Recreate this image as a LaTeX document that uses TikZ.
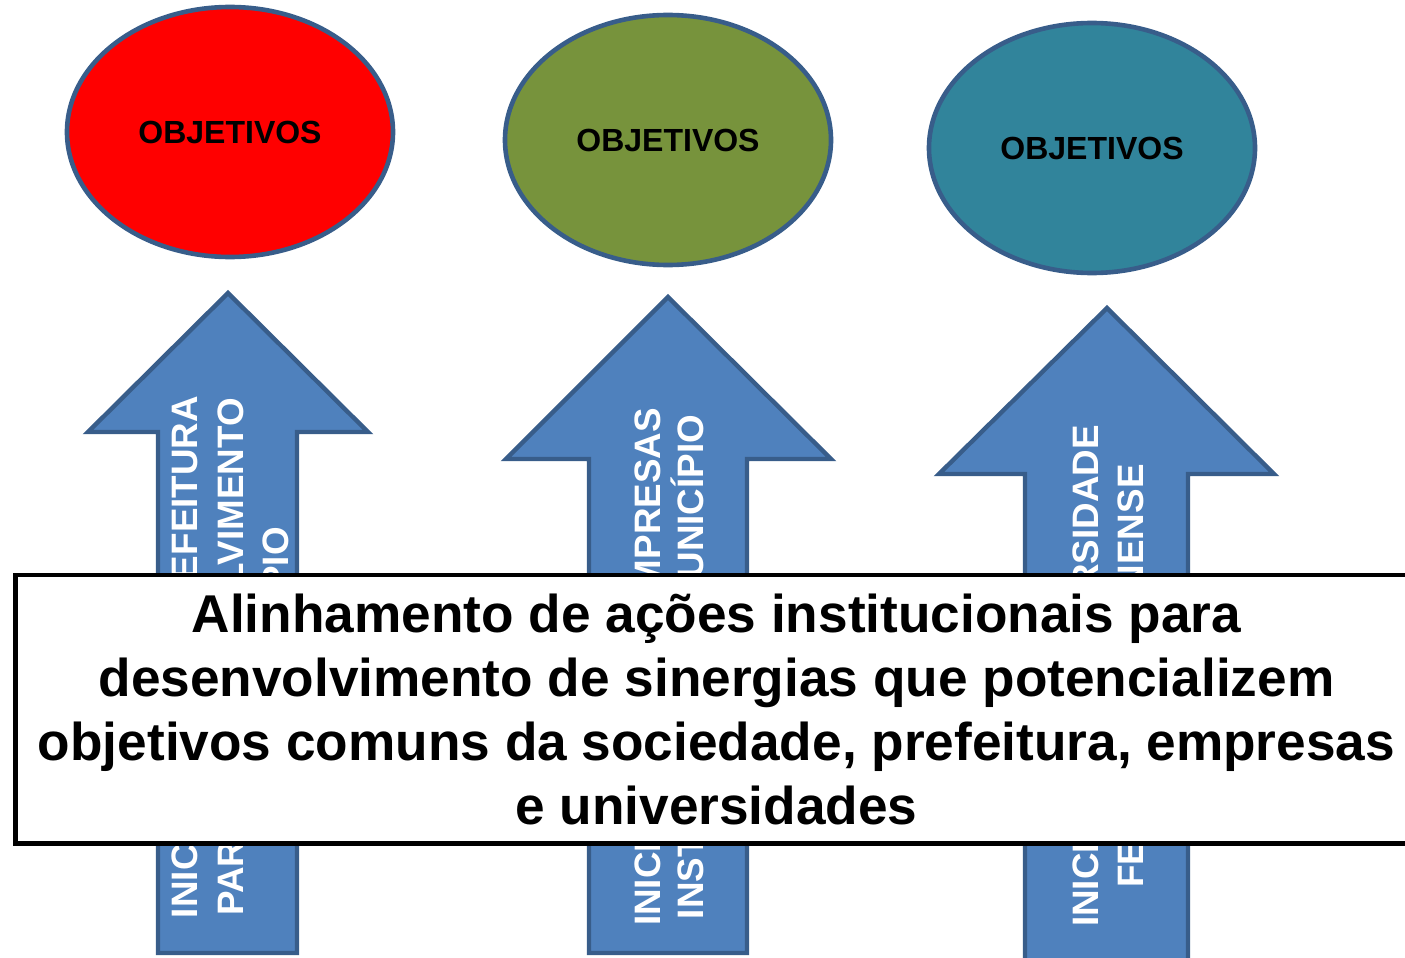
\documentclass[tikz,border=0pt]{standalone}
\usepackage{fontspec}
\setmainfont{Liberation Sans}
\usetikzlibrary{shapes.geometric}
\definecolor{objred}{HTML}{FF0000}
\definecolor{objolive}{HTML}{77933C}
\definecolor{objteal}{HTML}{31849B}
\definecolor{arrowblue}{HTML}{4F81BD}
\definecolor{shapeborder}{HTML}{385D8A}
\tikzset{
  objellipse/.style={ellipse, draw=shapeborder, line width=2.3pt, minimum width=163pt, minimum height=125pt, inner sep=0pt, font=\bfseries\fontsize{16pt}{18pt}\selectfont},
  uparrow/.style={fill=arrowblue, draw=shapeborder, line width=2.2pt, line join=miter},
  arrowtext/.style={rotate=90, anchor=base, inner sep=0pt, text=white, font=\bfseries\fontsize{18.4pt}{22pt}\selectfont},
  mainbox/.style={draw=black, line width=2.4pt, fill=white, minimum width=701pt, minimum height=134.25pt, inner sep=0pt, align=center, font=\bfseries\fontsize{26.6pt}{32pt}\selectfont}
}
\begin{document}
\begin{tikzpicture}[x=0.5pt,y=-0.5pt]
\useasboundingbox (0,0) rectangle (1405,958);
\clip (0,0) rectangle (1405,958);
% ellipses
\node[objellipse, fill=objred] (obj1) at (230,132) {OBJETIVOS};
\node[objellipse, fill=objolive] (obj2) at (668,140) {OBJETIVOS};
\node[objellipse, fill=objteal] (obj3) at (1092,148) {OBJETIVOS};
% arrows
\draw[uparrow] (158,953) -- (158,432) -- (88,432) -- (228,293) -- (368,432) -- (297,432) -- (297,953) -- cycle;
\draw[uparrow] (589,953) -- (589,459) -- (506,459) -- (668,297) -- (831,459) -- (747,459) -- (747,953) -- cycle;
\draw[uparrow] (1025,965) -- (1025,474) -- (939,474) -- (1107,308) -- (1274,474) -- (1188,474) -- (1188,965) -- cycle;
% arrow texts
\node[arrowtext] (a1l1) at (197,657) {INICIATIVAS DA PREFEITURA};
\node[arrowtext] (a1l2) at (243,657) {PARA O DESENVOLVIMENTO};
\node[arrowtext] (a1l3) at (288,657) {DO MUNICÍPIO};
\node[arrowtext] (a2l1) at (660,667) {INICIATIVAS DAS EMPRESAS};
\node[arrowtext] (a2l2) at (703,667) {INSTALADAS NO MUNICÍPIO};
\node[arrowtext] (a3l1) at (1098,676) {INICIATIVAS UNIVERSIDADE};
\node[arrowtext] (a3l2) at (1143,676) {FEDERAL FLUMINENSE};
% main box
\node[mainbox] (box) at (716.5,709.25) {Alinhamento de ações institucionais para\\ desenvolvimento de sinergias que potencializem\\ objetivos comuns da sociedade, prefeitura, empresas\\ e universidades};
\end{tikzpicture}
\end{document}
